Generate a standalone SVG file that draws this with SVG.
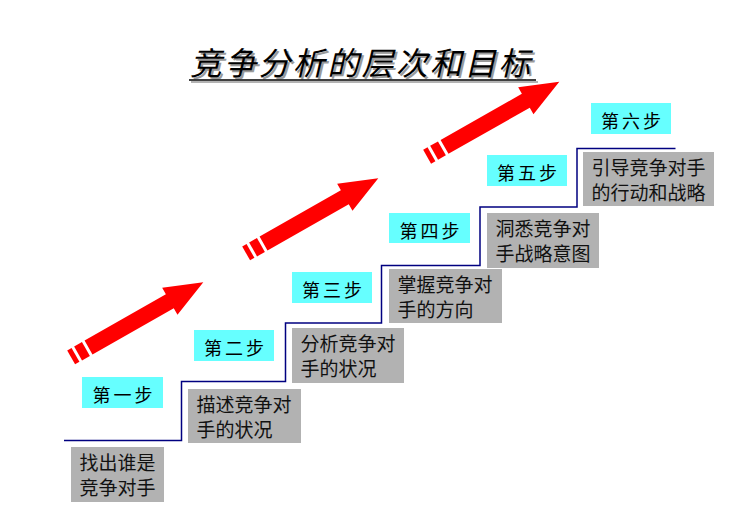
<svg xmlns="http://www.w3.org/2000/svg" xmlns:xlink="http://www.w3.org/1999/xlink" width="739" height="527" viewBox="0 0 739 527">
<style>
.gbox{fill:#b2b2b2}
.cbox{fill:#66ffff}
.gtxt{font-family:"Noto Sans CJK SC","Noto Sans",sans-serif;font-size:19px;fill:#111}
.ctxt{font-family:"Noto Sans CJK SC","Noto Sans",sans-serif;font-size:18px;letter-spacing:3px;fill:#000;text-anchor:middle}
.ttl{font-family:"Noto Sans CJK SC","Noto Sans",sans-serif;font-size:32px;letter-spacing:2.3px}
.arrow{fill:#ff0000}
</style>
<defs>
<g id="sarrow">
<path class="arrow" d="M0,0 L-38.5,-15.5 L-38.5,-8 L-132,-8 L-132,8 L-38.5,8 L-38.5,15.5 Z"/>
<rect class="arrow" x="-144" y="-8" width="9" height="16"/>
<rect class="arrow" x="-152" y="-8" width="5" height="16"/>
</g>
</defs>
<rect width="739" height="527" fill="#ffffff"/>
<g id="title">
<g transform="translate(192,77) skewX(-13)"><text class="ttl" x="0" y="0" fill="#9a9a9a">竞争分析的层次和目标</text></g>
<line x1="191" y1="82" x2="538" y2="82" stroke="#9a9a9a" stroke-width="1.5"/>
<g transform="translate(190,75) skewX(-13)"><text class="ttl" x="0" y="0" fill="#000">竞争分析的层次和目标</text></g>
<line x1="189" y1="80" x2="536" y2="80" stroke="#000" stroke-width="1.5"/>
</g>
<g id="connectors">
<polyline fill="none" stroke="#000080" stroke-width="1.5" points="64,440.5 181.5,440.5 181.5,381.5 285.5,381.5 285.5,323 381.5,323 381.5,265.5 480,265.5 480,207 577,207 577,148.5 675.5,148.5"/>
<use xlink:href="#sarrow" transform="translate(203.3,282.3) rotate(-29.6)"/>
<use xlink:href="#sarrow" transform="translate(378.3,178.3) rotate(-29.6)"/>
<use xlink:href="#sarrow" transform="translate(559.3,81.7) rotate(-29.6)"/>
</g>
<g id="step1">
<rect class="cbox" x="82" y="377" width="81" height="31"/>
<text class="ctxt" x="124" y="402">第一步</text>
<rect class="gbox" x="71" y="447" width="93" height="55"/>
<text class="gtxt" x="79.5" y="470">找出谁是</text>
<text class="gtxt" x="79.5" y="495">竞争对手</text>
</g>
<g id="step2">
<rect class="cbox" x="194" y="330" width="80" height="31"/>
<text class="ctxt" x="235.5" y="355">第二步</text>
<rect class="gbox" x="188" y="389" width="113" height="54"/>
<text class="gtxt" x="196.5" y="412">描述竞争对</text>
<text class="gtxt" x="196.5" y="437">手的状况</text>
</g>
<g id="step3">
<rect class="cbox" x="292" y="272" width="80" height="31"/>
<text class="ctxt" x="333.5" y="297">第三步</text>
<rect class="gbox" x="292" y="328" width="112" height="55"/>
<text class="gtxt" x="300.5" y="351">分析竞争对</text>
<text class="gtxt" x="300.5" y="376">手的状况</text>
</g>
<g id="step4">
<rect class="cbox" x="389" y="213" width="81" height="30"/>
<text class="ctxt" x="431" y="237.5">第四步</text>
<rect class="gbox" x="389" y="269" width="113" height="54"/>
<text class="gtxt" x="397.5" y="292">掌握竞争对</text>
<text class="gtxt" x="397.5" y="317">手的方向</text>
</g>
<g id="step5">
<rect class="cbox" x="487" y="155" width="80" height="31"/>
<text class="ctxt" x="528.5" y="180">第五步</text>
<rect class="gbox" x="487" y="213" width="112" height="55"/>
<text class="gtxt" x="495.5" y="236">洞悉竞争对</text>
<text class="gtxt" x="495.5" y="261">手战略意图</text>
</g>
<g id="step6">
<rect class="cbox" x="591" y="103" width="80" height="31"/>
<text class="ctxt" x="632.5" y="128">第六步</text>
<rect class="gbox" x="583" y="152" width="131" height="54"/>
<text class="gtxt" x="591.5" y="175">引导竞争对手</text>
<text class="gtxt" x="591.5" y="200">的行动和战略</text>
</g>
</svg>
